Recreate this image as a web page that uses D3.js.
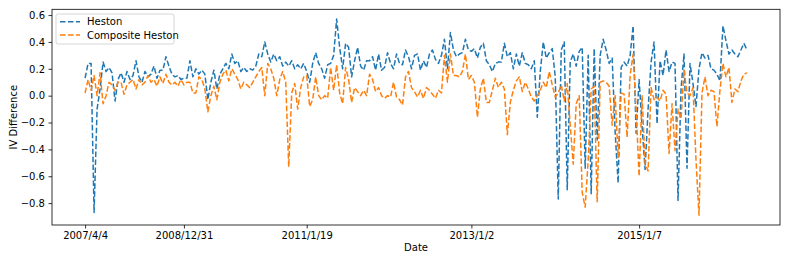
<!DOCTYPE html>
<html><head><meta charset="utf-8">
<script src="https://cdn.jsdelivr.net/npm/d3@7"></script>
<style>body{margin:0;background:#fff}svg{display:block;font-family:"DejaVu Sans",sans-serif}</style>
</head><body><svg id="c" width="793" height="264"></svg>
<script>
const seriesNames = ["Heston", "Composite Heston"];
const tickIndex = [0, 33, 74, 129, 185];
const tickLabels = ["2007/4/4", "2008/12/31", "2011/1/19", "2013/1/2", "2015/1/7"];
const yTicks = [-0.8, -0.6, -0.4, -0.2, 0.0, 0.2, 0.4, 0.6];
const heston = [
0.13,0.24,0.24,-0.87,-0.10,0.05,0.25,0.18,0.21,0.17,-0.04,0.12,0.17,0.10,0.18,0.12,0.15,0.26,0.14,0.10,0.18,0.14,0.16,0.22,0.13,0.19,0.19,0.29,0.22,0.16,0.14,0.15,0.12,0.13,0.13,0.26,0.14,0.20,
0.16,0.19,0.16,-0.03,0.10,0.19,0.05,0.16,0.20,0.24,0.20,0.31,0.24,0.26,0.18,0.21,0.18,0.20,0.19,0.22,0.31,0.29,0.40,0.31,0.25,0.31,0.26,0.29,0.22,0.25,0.22,0.26,0.20,0.23,0.20,0.24,
0.18,0.10,0.24,0.32,0.24,0.20,0.13,0.23,0.24,0.30,0.57,0.36,0.20,0.39,0.36,0.14,0.26,0.36,0.22,0.19,0.26,0.26,0.29,0.19,0.31,0.19,0.21,0.32,0.24,0.20,0.31,0.24,0.23,0.34,0.29,0.20,0.30,
0.31,0.19,0.26,0.21,0.31,0.34,0.27,0.24,0.30,0.42,0.20,0.47,0.34,0.29,0.31,0.32,0.42,0.34,0.33,0.35,0.28,0.36,0.39,0.26,0.23,0.18,0.24,0.25,0.25,0.39,0.29,0.32,0.20,0.31,0.22,0.32,0.24,
0.23,0.20,0.26,-0.16,0.18,0.40,0.28,0.32,0.35,0.14,-0.77,0.34,0.40,-0.70,0.25,0.31,0.22,0.33,0.36,-0.54,0.30,-0.73,0.35,-0.33,0.30,0.42,0.34,0.24,0.28,-0.27,-0.65,0.21,0.25,0.22,0.30,0.52,-0.28,
0.12,-0.23,-0.55,-0.10,0.25,0.40,-0.21,0.26,0.15,0.34,0.18,0.25,0.24,-0.78,0.05,0.31,-0.54,0.24,0.09,-0.08,0.20,0.32,0.28,0.30,0.20,0.19,0.16,0.11,0.52,0.41,0.31,0.34,0.31,0.29,0.34,0.39,0.34
];
const composite = [
0.02,0.12,0.04,0.15,0.00,0.17,-0.06,0.00,0.10,0.08,0.04,0.10,0.10,0.01,0.08,0.10,0.12,0.05,0.12,0.08,0.10,0.15,0.10,0.12,0.07,0.14,0.09,0.16,0.10,0.08,0.10,0.07,0.12,0.08,0.10,0.10,0.02,0.02,
0.14,0.12,0.05,-0.12,0.00,0.07,-0.03,0.10,0.16,0.19,0.11,0.20,0.16,0.12,0.05,0.10,0.08,0.06,0.10,0.14,0.18,0.21,0.00,0.24,0.20,0.13,0.00,0.12,0.18,0.10,-0.53,0.02,0.09,-0.10,0.06,0.14,
0.15,-0.08,-0.03,0.14,0.00,-0.03,0.00,-0.02,0.21,0.04,0.23,0.02,-0.06,0.21,0.12,-0.05,0.06,0.03,0.00,0.04,0.00,0.16,0.12,0.03,0.06,0.00,-0.02,0.00,-0.01,0.10,-0.01,-0.03,-0.07,0.14,0.18,0.06,0.03,
-0.01,0.04,-0.02,0.06,0.04,0.01,-0.02,0.04,0.02,0.30,0.10,0.31,0.15,0.15,0.14,0.18,0.31,0.12,0.15,0.10,-0.16,0.05,0.13,-0.05,-0.05,0.04,0.13,0.06,0.10,0.05,-0.29,-0.05,0.04,0.11,0.14,0.03,0.10,
0.05,-0.01,-0.04,0.00,0.04,0.10,0.06,0.18,0.08,-0.01,0.02,0.08,-0.04,0.09,-0.22,-0.51,-0.06,0.00,-0.72,-0.83,-0.48,0.05,0.07,-0.79,0.10,0.11,0.10,0.07,-0.22,0.00,-0.46,0.02,0.01,-0.31,0.15,0.31,-0.10,
-0.60,0.00,-0.51,-0.56,0.06,-0.03,-0.01,-0.04,0.04,0.01,-0.43,-0.06,-0.41,-0.10,-0.17,0.19,0.02,0.00,0.06,-0.48,-0.89,0.02,0.14,0.00,0.04,0.03,-0.23,0.04,0.24,0.14,0.21,-0.05,0.05,0.03,0.11,0.16,0.17
];
const colors = ["#1f77b4", "#ff7f0e"];

const svg = d3.select("#c");
const L = 52, R = 780, T = 9.3, B = 225;
const n = heston.length - 1;
const x = d3.scaleLinear().domain([-0.05 * n, 1.05 * n]).range([L, R]);
const all = heston.concat(composite);
const lo = d3.min(all), hi = d3.max(all), pad = (hi - lo) * 0.05;
const y = d3.scaleLinear().domain([lo - pad, hi + pad]).range([B, T]);

svg.append("defs").append("clipPath").attr("id", "clip")
  .append("rect").attr("x", L).attr("y", T).attr("width", R - L).attr("height", B - T);

const line = d3.line().x((d, i) => x(i)).y(d => y(d));
[heston, composite].forEach((s, k) => {
  svg.append("path").datum(s).attr("d", line).attr("clip-path", "url(#clip)")
    .attr("fill", "none").attr("stroke", colors[k]).attr("stroke-width", 1.5)
    .attr("stroke-dasharray", "5.55,2.4").attr("stroke-linejoin", "round");
});

const fmt = v => d3.format(".1f")(v).replace("-", "\u2212");
const xAxis = d3.axisBottom(x).tickValues(tickIndex).tickFormat((d, i) => tickLabels[i]).tickSize(3.5).tickPadding(3.5);
const yAxis = d3.axisLeft(y).tickValues(yTicks).tickFormat(fmt).tickSize(3.5).tickPadding(3.5);
const gx = svg.append("g").attr("transform", `translate(0,${B})`).call(xAxis);
const gy = svg.append("g").attr("transform", `translate(${L},0)`).call(yAxis);
[gx, gy].forEach(g => {
  g.select(".domain").remove();
  g.selectAll("text").attr("font-size", 10).attr("fill", "#000").attr("font-family", "DejaVu Sans");
  g.selectAll("line").attr("stroke", "#000").attr("stroke-width", 0.8);
});

svg.append("rect").attr("x", L).attr("y", T).attr("width", R - L).attr("height", B - T)
  .attr("fill", "none").attr("stroke", "#000").attr("stroke-width", 0.8);

svg.append("text").attr("x", (L + R) / 2).attr("y", 251).attr("text-anchor", "middle")
  .attr("font-size", 10).text("Date");
svg.append("text").attr("transform", `translate(17,${(T + B) / 2}) rotate(-90)`)
  .attr("text-anchor", "middle").attr("font-size", 10).text("IV Difference");

const lg = svg.append("g");
lg.append("rect").attr("x", 56).attr("y", 14).attr("width", 118).attr("height", 30).attr("rx", 2)
  .attr("fill", "#fff").attr("fill-opacity", 0.8).attr("stroke", "#ccc").attr("stroke-width", 0.8);
seriesNames.forEach((name, k) => {
  const yy = 21.7 + k * 13.3;
  lg.append("line").attr("x1", 60).attr("x2", 80).attr("y1", yy).attr("y2", yy)
    .attr("stroke", colors[k]).attr("stroke-width", 1.5).attr("stroke-dasharray", "5.55,2.4");
  lg.append("text").attr("x", 87).attr("y", yy).attr("dy", "0.35em").attr("font-size", 10).text(name);
});
</script></body></html>
